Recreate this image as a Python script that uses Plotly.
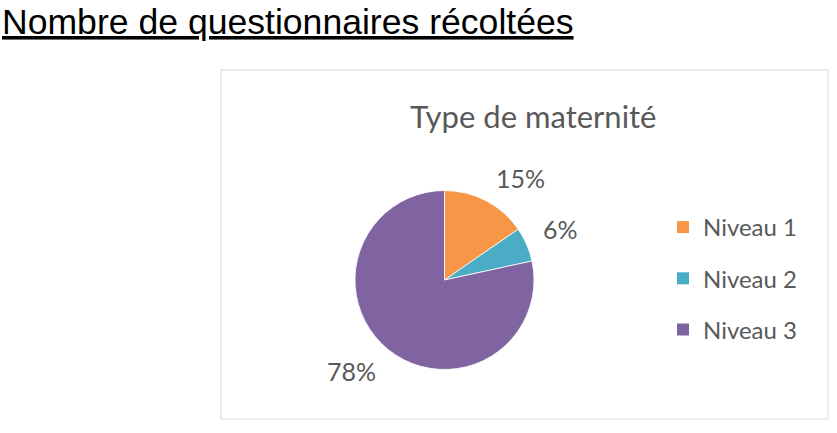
import math
import plotly.graph_objects as go

# ---- data ----
categories = ["Niveau 1", "Niveau 2", "Niveau 3"]
shares = [15.4, 6.2, 78.4]
colors = ["#F79646", "#4BACC6", "#8064A2"]
page_title = "Nombre de questionnaires récoltées"
chart_title = "Type de maternité"

W, H = 837, 433
def px(x):
    return x / W
def py(y):
    return 1 - y / H

# pie geometry (pixels)
cx, cy, r = 444.5, 280, 89.5
label_font = "Lato"
grey = "#595959"

fig = go.Figure()
fig.add_trace(go.Pie(
    labels=categories, values=shares, sort=False, direction="clockwise",
    rotation=0, marker=dict(colors=colors, line=dict(color="white", width=0.8)),
    textinfo="none", showlegend=False, hoverinfo="label+percent",
    domain=dict(x=[px(cx - r), px(cx + r)], y=[py(cy + r), py(cy - r)]),
))

# outside percentage labels placed from slice mid-angles
total = sum(shares)
cum = 0.0
annotations = []
for cat, v in zip(categories, shares):
    mid = (cum + v / 2) / total * 2 * math.pi
    cum += v
    d = r + 16
    lx = cx + d * math.sin(mid)
    ly = cy - d * math.cos(mid)
    up = math.cos(mid) > 0
    annotations.append(dict(
        x=px(lx), y=py(ly), xref="paper", yref="paper", showarrow=False,
        text=f"{round(v / total * 100):d}%",
        xanchor="left" if math.sin(mid) > 0 else "right",
        yanchor="bottom" if up else "top",
        yshift=-8 if up else 8,
        font=dict(family=label_font, size=25, color=grey),
    ))

# legend via legend-only traces
for cat, c in zip(categories, colors):
    fig.add_trace(go.Scatter(
        x=[None], y=[None], mode="markers", name=cat, legendgroup=cat,
        marker=dict(symbol="square", size=12, color=c),
    ))

annotations.append(dict(
    x=px(533), y=py(116), xref="paper", yref="paper", showarrow=False,
    text=chart_title, xanchor="center", yanchor="middle",
    font=dict(family=label_font, size=31, color=grey),
))
annotations.append(dict(
    x=px(0), y=py(0), xref="paper", yref="paper", showarrow=False,
    text=f"<u>{page_title}</u>", xanchor="left", yanchor="top",
    font=dict(family="Liberation Sans", size=35.6, color="black"),
))

fig.update_layout(
    width=W, height=H, margin=dict(l=0, r=0, t=0, b=0),
    paper_bgcolor="white", plot_bgcolor="white",
    xaxis=dict(visible=False), yaxis=dict(visible=False),
    annotations=annotations,
    shapes=[dict(type="rect", xref="paper", yref="paper",
                 x0=px(221), x1=px(828), y0=py(419), y1=py(70),
                 line=dict(color="#D9D9D9", width=1), fillcolor="rgba(0,0,0,0)")],
    legend=dict(x=px(663), y=py(205), xanchor="left", yanchor="top",
                font=dict(family=label_font, size=24, color=grey),
                tracegroupgap=17, bgcolor="rgba(0,0,0,0)"),
)

fig.write_html("out.html")
